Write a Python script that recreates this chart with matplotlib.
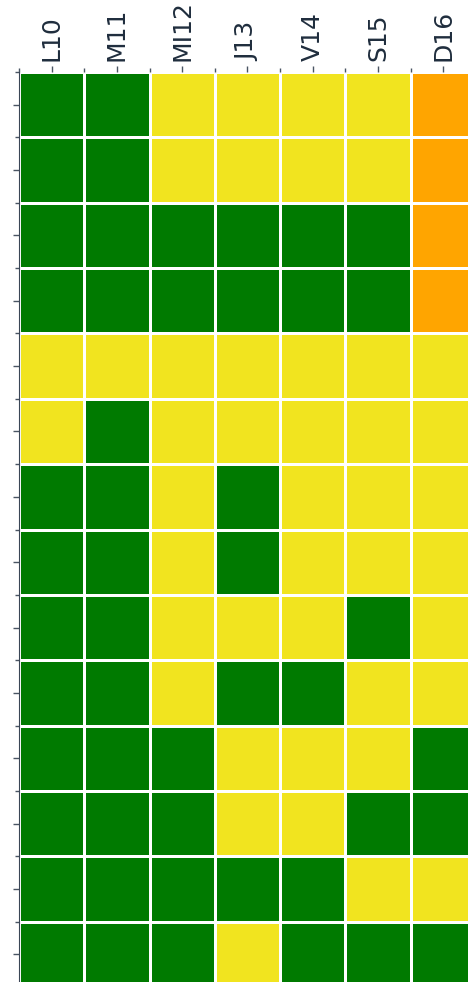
import matplotlib.pyplot as plt
import numpy as np
from matplotlib.colors import ListedColormap

days = ["L10", "M11", "MI12", "J13", "V14", "S15", "D16"]

# 0 = green, 1 = yellow, 2 = orange ; one row per line, top to bottom
status = [
    [0, 0, 1, 1, 1, 1, 2],
    [0, 0, 1, 1, 1, 1, 2],
    [0, 0, 0, 0, 0, 0, 2],
    [0, 0, 0, 0, 0, 0, 2],
    [1, 1, 1, 1, 1, 1, 1],
    [1, 0, 1, 1, 1, 1, 1],
    [0, 0, 1, 0, 1, 1, 1],
    [0, 0, 1, 0, 1, 1, 1],
    [0, 0, 1, 1, 1, 0, 1],
    [0, 0, 1, 0, 0, 1, 1],
    [0, 0, 0, 1, 1, 1, 0],
    [0, 0, 0, 1, 1, 0, 0],
    [0, 0, 0, 0, 0, 1, 1],
    [0, 0, 0, 1, 0, 0, 0],
]

colors = ["#007a00", "#f1e41f", "#ffa500"]


def main():
    data = np.array(status)
    nrows, ncols = data.shape

    fig = plt.figure(figsize=(4.68, 9.82), dpi=100)
    ax = fig.add_axes([19 / 468, -5 / 982, 457 / 468, 915 / 982])

    ax.pcolormesh(data, cmap=ListedColormap(colors), vmin=-0.5, vmax=2.5,
                  edgecolors="white", linewidth=2)
    ax.set_xlim(0, ncols)
    ax.set_ylim(nrows, 0)

    ax.xaxis.tick_top()
    ax.set_xticks(np.arange(ncols) + 0.5)
    ax.set_xticklabels(days, rotation=90, fontsize=18, color="#1f2d3d")
    ax.set_xticks(np.arange(ncols + 1), minor=True)
    ax.set_yticks(np.arange(nrows) + 0.5)
    ax.set_yticklabels([])
    ax.set_yticks(np.arange(nrows + 1), minor=True)
    ax.tick_params(which="major", length=4, width=1, color="#4a5563", pad=4)
    ax.tick_params(which="minor", length=3, width=1, color="#4a5563")

    for side in ["top", "right", "bottom"]:
        ax.spines[side].set_visible(False)
    ax.spines["left"].set_color("#3a4656")

    fig.savefig("out.png", dpi=100)


if __name__ == "__main__":
    main()
